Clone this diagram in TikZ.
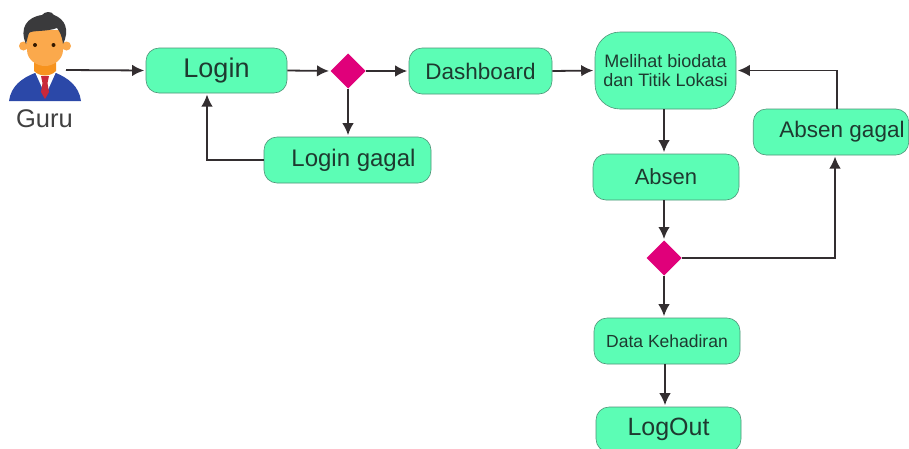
\documentclass[tikz,border=0pt]{standalone}
\usepackage{fontspec}
\setmainfont{Liberation Sans}
\usetikzlibrary{arrows.meta,shapes.geometric}
\definecolor{boxfill}{HTML}{5CFDB5}
\definecolor{boxedge}{HTML}{4F9478}
\definecolor{txt}{HTML}{1E3A30}
\definecolor{lin}{HTML}{332E30}
\definecolor{dia}{HTML}{E0007A}
\definecolor{suit}{HTML}{2B48A8}
\definecolor{skin}{HTML}{FBA94C}
\definecolor{neck}{HTML}{F7931E}
\definecolor{hair}{HTML}{3A3A3C}
\definecolor{tie}{HTML}{C9283A}
\tikzset{x=1pt,y=-1pt,
 flowbox/.style={draw=boxedge,fill=boxfill,rounded corners=#1,line width=0.6pt,text=txt,inner sep=0pt,align=center},
 flowbox/.default=13pt,
 gate/.style={draw=none,fill=dia,diamond,minimum width=35pt,minimum height=35pt,inner sep=0pt,outer sep=0pt},
 link/.style={draw=lin,line width=1.8pt,shorten >=1.5pt,-{Latex[length=12pt,width=11.5pt]}}}
\newcommand{\bx}[8][13pt]{\node[flowbox=#1,minimum width=#5pt,minimum height=#6pt,font=\fontsize{#7}{#7}\selectfont] (#2) at (#3,#4) {#8};}
\begin{document}
\begin{tikzpicture}
\useasboundingbox (0,0) rectangle (909,448);
\fill[white] (0,0) rectangle (909,448);
% Person
\fill[suit] (9,101) .. controls (11,86) and (22,78) .. (35,73) -- (56,73) .. controls (68,78) and (79,86) .. (81,101) -- cycle;
\fill[white] (35,72) -- (56,72) -- (47,92) -- (44,92) -- cycle;
\fill[neck] (34,60) -- (56,60) -- (56,71) .. controls (50,77) and (40,77) .. (34,71) -- cycle;
\fill[tie] (41,76) -- (49,76) -- (47.5,83) -- (49,92) -- (45,99) -- (41,92) -- (42.5,83) -- cycle;
\fill[skin] (23.5,46) circle (4.5) (66.5,46) circle (4.5);
\fill[skin] (27,30) -- (63,30) -- (63,50) .. controls (63,60) and (53,66) .. (45,66) .. controls (37,66) and (27,60) .. (27,50) -- cycle;
\fill[hair] (26,44) .. controls (19,28) and (27,17) .. (42,15) .. controls (45,11) and (52,11) .. (54,15) .. controls (65,19) and (70,30) .. (63,44) .. controls (62,36) and (60,32) .. (57,28) .. controls (47,32) and (32,30) .. (29,33) .. controls (28,36) and (27,40) .. (26,44) -- cycle;
\fill[black!80!orange] (35,45) circle (2) (53.5,45) circle (2);
\node[text=black!75,font=\fontsize{25.5}{25.5}\selectfont,inner sep=0pt] (guru) at (44.5,119) {Guru};
\coordinate (personout) at (66,70);
% Boxes
\bx{login}{216.5}{70.5}{141}{45}{27}{\raisebox{2pt}{Login}}
\node[gate] (d1) at (348,71) {};
\bx{dash}{480.5}{71}{143}{46}{22.5}{Dashboard}
\bx[25pt]{lihat}{665.5}{70.5}{141}{77}{18}{Melihat biodata\\[1pt]dan Titik Lokasi}
\bx{absen}{666}{177}{146}{46}{22}{Absen}
\bx{agagal}{831}{132}{155.5}{46}{22.5}{\hspace{22pt}Absen gagal}
\bx{lgagal}{347.5}{160}{167}{46}{24}{\hspace{12pt}Login gagal}
\node[gate] (d2) at (664,258) {};
\bx{data}{667}{341}{146}{46}{17.5}{Data Kehadiran}
\bx{logout}{668.5}{429.5}{145}{45}{25}{LogOut}
% Anchor points on box edges where connectors do not meet the middle
\coordinate (loginfoot) at (207,93);
\coordinate (agagaltop) at (837,109);
\coordinate (agagalfoot) at (835,155);
\coordinate (datafoot) at (665,364);
% Connectors
\draw[link] (personout) -- (login.west);
\draw[link] (login.east) -- (d1.west);
\draw[link] (d1.east) -- (dash.west);
\draw[link] (dash.east) -- (lihat.west);
\draw[link] (d1.south) -- (d1.south |- lgagal.north);
\draw[link] (lgagal.west) -| (loginfoot);
\draw[link] (d2.north |- lihat.south) -- (d2.north |- absen.north);
\draw[link] (d2.north |- absen.south) -- (d2.north);
\draw[link] (d2.east) -| (agagalfoot);
\draw[link] (agagaltop) |- (lihat.east);
\draw[link] (d2.south) -- (d2.south |- data.north);
\draw[link] (datafoot) -- (datafoot |- logout.north);
\end{tikzpicture}
\end{document}
